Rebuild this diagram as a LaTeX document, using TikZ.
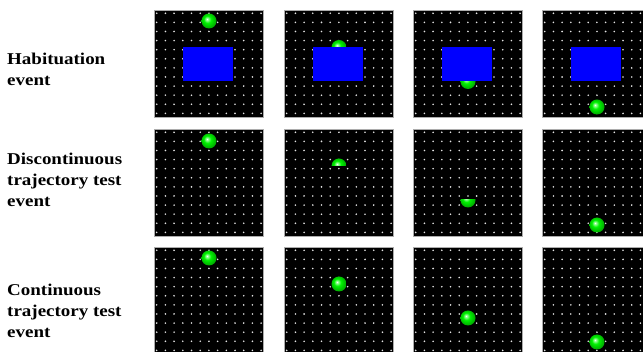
\documentclass[tikz,border=0pt]{standalone}
\usepackage{fontspec}
\setmainfont{Liberation Serif}
\pgfdeclareradialshading{gball}{\pgfqpoint{-7bp}{7bp}}{color(0bp)=(white); color(3bp)=(green!35!white); color(12bp)=(green!95!black); color(25bp)=(green!70!black); color(50bp)=(green!70!black)}
\tikzset{
  panelbg/.style={fill=black},
  panelrim/.style={draw=gray!65, line width=0.7pt},
  griddot/.style={fill=white!78!gray},
  occluder/.style={fill=blue},
  greenball/.style={shading=gball},
  rowlabel/.style={font=\fontsize{16.5}{21}\selectfont\bfseries, anchor=base west, align=left, inner sep=0pt, xscale=1.15, transform shape}
}
\newcommand\gridpanel[2]{%
  \fill[panelbg] (#1,#2) rectangle ++(109,107);
  \foreach \i in {0,...,12}{\foreach \j in {0,...,11}{%
    \fill[griddot] ({#1+2.7+8.7*\i},{#2+3.3+9.1*\j}) circle[radius=0.9pt];}}
  \draw[panelrim] (#1,#2) rectangle ++(109,107);
}
\newcommand\gball[2]{\shade[greenball] (#1,#2) circle[radius=7.5pt];}
\begin{document}
\begin{tikzpicture}[x=1pt,y=-1pt]
\useasboundingbox (0,0) rectangle (643,352);
\fill[white] (0,0) rectangle (643,352);
\clip (0,0) rectangle (643,352);
% panels
\foreach \px in {154,284,413,542}{\foreach \py in {10,129,247}{\gridpanel{\px}{\py}}}
% row 1: habituation
\gball{209}{21}
\fill[occluder] (183,47) rectangle (233,81);
\gball{339}{47.5}
\fill[occluder] (313,47) rectangle (363,81);
\gball{468}{81.5}
\fill[occluder] (442,47) rectangle (492,81);
\fill[occluder] (571,47) rectangle (621,81);
\gball{597}{107}
% row 2: discontinuous
\gball{209}{141}
\begin{scope}
  \clip (330,157) rectangle (348,166);
  \gball{339}{166}
\end{scope}
\begin{scope}
  \clip (459,200) rectangle (477,209);
  \gball{468}{200}
\end{scope}
\gball{597}{225}
% row 3: continuous
\gball{209}{258}
\gball{339}{284}
\gball{468}{318}
\gball{597}{342}
% labels (base anchor = baseline of the last line)
\node[rowlabel] (habit) at (7,86) {Habituation\\event};
\node[rowlabel] (discont) at (7,207) {Discontinuous\\trajectory test\\event};
\node[rowlabel] (cont) at (7,338) {Continuous\\trajectory test\\event};
\end{tikzpicture}
\end{document}
